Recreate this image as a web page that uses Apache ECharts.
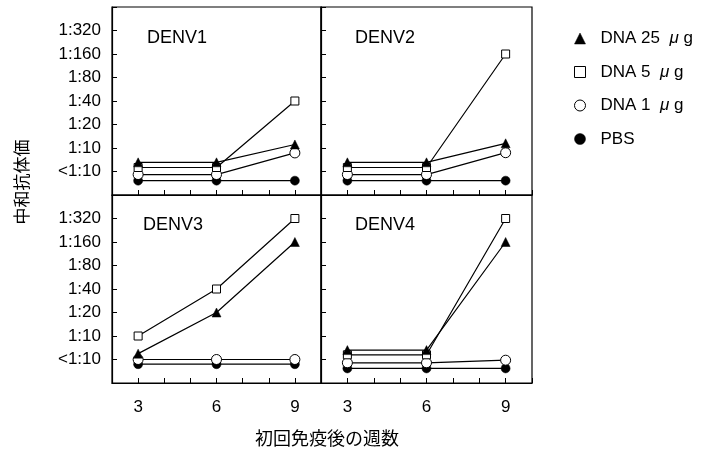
<!DOCTYPE html>
<html><head><meta charset="utf-8">
<script src="https://cdn.jsdelivr.net/npm/echarts@6/dist/echarts.min.js"></script>
<style>html,body{margin:0;padding:0;background:#fff}#c{width:702px;height:453px}</style>
</head><body><div id="c"></div>
<script>
// Data (log2 titre levels: 0 = <1:10, 1 = 1:10, ... 6 = 1:320; small offsets separate overlapping groups)
const weeks = [3, 6, 9];
const yTickLabels = ['<1:10', '1:10', '1:20', '1:40', '1:80', '1:160', '1:320'];
const xTickLabels = ['3', '6', '9'];
const panelNames = ['DENV1', 'DENV2', 'DENV3', 'DENV4'];
const groupNames = ['DNA 25 μg', 'DNA 5 μg', 'DNA 1 μg', 'PBS'];

const denv1_dna25 = [0.39, 0.39, 1.15];
const denv1_dna5  = [0.17, 0.17, 3.0];
const denv1_dna1  = [-0.13, -0.13, 0.79];
const denv1_pbs   = [-0.39, -0.39, -0.39];

const denv2_dna25 = [0.39, 0.39, 1.2];
const denv2_dna5  = [0.17, 0.17, 5.0];
const denv2_dna1  = [-0.13, -0.13, 0.8];
const denv2_pbs   = [-0.39, -0.39, -0.39];

const denv3_dna25 = [0.25, 2.0, 5.0];
const denv3_dna5  = [1.0, 3.0, 6.0];
const denv3_dna1  = [0.0, 0.0, 0.0];
const denv3_pbs   = [-0.2, -0.2, -0.2];

const denv4_dna25 = [0.4, 0.4, 5.0];
const denv4_dna5  = [0.2, 0.2, 6.0];
const denv4_dna1  = [-0.14, -0.14, -0.03];
const denv4_pbs   = [-0.38, -0.38, -0.38];

const panelData = [
  [denv1_dna25, denv1_dna5, denv1_dna1, denv1_pbs],
  [denv2_dna25, denv2_dna5, denv2_dna1, denv2_pbs],
  [denv3_dna25, denv3_dna5, denv3_dna1, denv3_pbs],
  [denv4_dna25, denv4_dna5, denv4_dna1, denv4_pbs]
];

// ---- presentation ----
const FONT = "'Liberation Sans', Arial, Helvetica, sans-serif";
const JFONT = "'Noto Sans CJK JP', sans-serif";
const grids = [
  {left: 112, top: 7, width: 209, height: 188},
  {left: 321, top: 7, width: 211, height: 188},
  {left: 112, top: 195, width: 209, height: 188},
  {left: 321, top: 195, width: 211, height: 188}
].map(g => Object.assign(g, {show: true, borderColor: '#000', borderWidth: 1.2, backgroundColor: 'transparent'}));

const titlePos = [[147, 29], [355, 29], [143, 216], [355, 216]];

const styles = [
  {symbol: 'triangle', symbolSize: 9, itemStyle: {color: '#000', borderColor: '#000', borderWidth: 0.5}},
  {symbol: 'rect', symbolSize: 8, itemStyle: {color: '#fff', borderColor: '#000', borderWidth: 1}},
  {symbol: 'circle', symbolSize: 10, itemStyle: {color: '#fff', borderColor: '#000', borderWidth: 1}},
  {symbol: 'circle', symbolSize: 9, itemStyle: {color: '#000', borderColor: '#000', borderWidth: 0.5}}
];

const xAxes = grids.map((g, i) => ({
  type: 'value', gridIndex: i, min: 2, max: 10, interval: 1,
  axisLine: {show: true, onZero: false, lineStyle: {color: '#000', width: 1.2}},
  axisTick: {show: true, inside: true, length: 5, lineStyle: {color: '#000'}},
  splitLine: {show: false},
  axisLabel: {
    show: i >= 2, color: '#000', fontFamily: FONT, fontSize: 17, margin: 16,
    formatter: v => { const k = weeks.indexOf(v); return k >= 0 ? xTickLabels[k] : ''; }
  }
}));

const yAxes = grids.map((g, i) => ({
  type: 'value', gridIndex: i, min: -1, max: 7, interval: 1,
  axisLine: {show: true, onZero: false, lineStyle: {color: '#000', width: 1.2}},
  axisTick: {show: true, inside: true, length: 5, lineStyle: {color: '#000'}},
  splitLine: {show: false},
  axisLabel: {
    show: i % 2 === 0, color: '#000', fontFamily: FONT, fontSize: 17, margin: 11,
    formatter: v => (v >= 0 && v < yTickLabels.length) ? yTickLabels[v] : ''
  }
}));

const series = [];
panelData.forEach((groups, p) => {
  // draw PBS first so others lie on top
  [3, 2, 1, 0].forEach(gi => {
    const vals = groups[gi];
    series.push(Object.assign({
      type: 'line', name: groupNames[gi], xAxisIndex: p, yAxisIndex: p,
      data: weeks.map((w, k) => [w, vals[k]]),
      lineStyle: {color: '#000', width: 1.2},
      showSymbol: true, emphasis: {disabled: true}, silent: true, z: 3 + (3 - gi)
    }, JSON.parse(JSON.stringify(styles[gi]))));
  });
});

const option = {
  animation: false,
  backgroundColor: '#fff',
  grid: grids,
  xAxis: xAxes,
  yAxis: yAxes,
  title: panelNames.map((n, i) => ({
    text: n, left: titlePos[i][0], top: titlePos[i][1], padding: 0,
    textStyle: {fontFamily: FONT, fontSize: 18, fontWeight: 'normal', color: '#000'}
  })),
  legend: {
    orient: 'vertical', left: 569, top: 25, itemWidth: 11, itemHeight: 11, itemGap: 16.5,
    selectedMode: false,
    data: groupNames.map((n, i) => ({
      name: n, icon: styles[i].symbol,
      itemStyle: styles[i].itemStyle
    })),
    formatter: n => n.replace(' μg', '  {mu|μ} g'),
    textStyle: {
      fontFamily: FONT, fontSize: 17, color: '#000', padding: [0, 0, 0, 10],
      rich: {mu: {fontFamily: FONT, fontSize: 17, fontStyle: 'italic', color: '#000'}}
    }
  },
  graphic: [
    {type: 'text', x: 22, y: 182, rotation: Math.PI / 2,
     style: {text: '中和抗体価', font: '17px ' + JFONT, fill: '#000', align: 'center', verticalAlign: 'middle'}},
    {type: 'text', x: 327, y: 438,
     style: {text: '初回免疫後の週数', font: '18px ' + JFONT, fill: '#000', align: 'center', verticalAlign: 'middle'}}
  ],
  series: series
};
const chart = echarts.init(document.getElementById('c'), null, {renderer: 'canvas'});
chart.setOption(option);
</script></body></html>
